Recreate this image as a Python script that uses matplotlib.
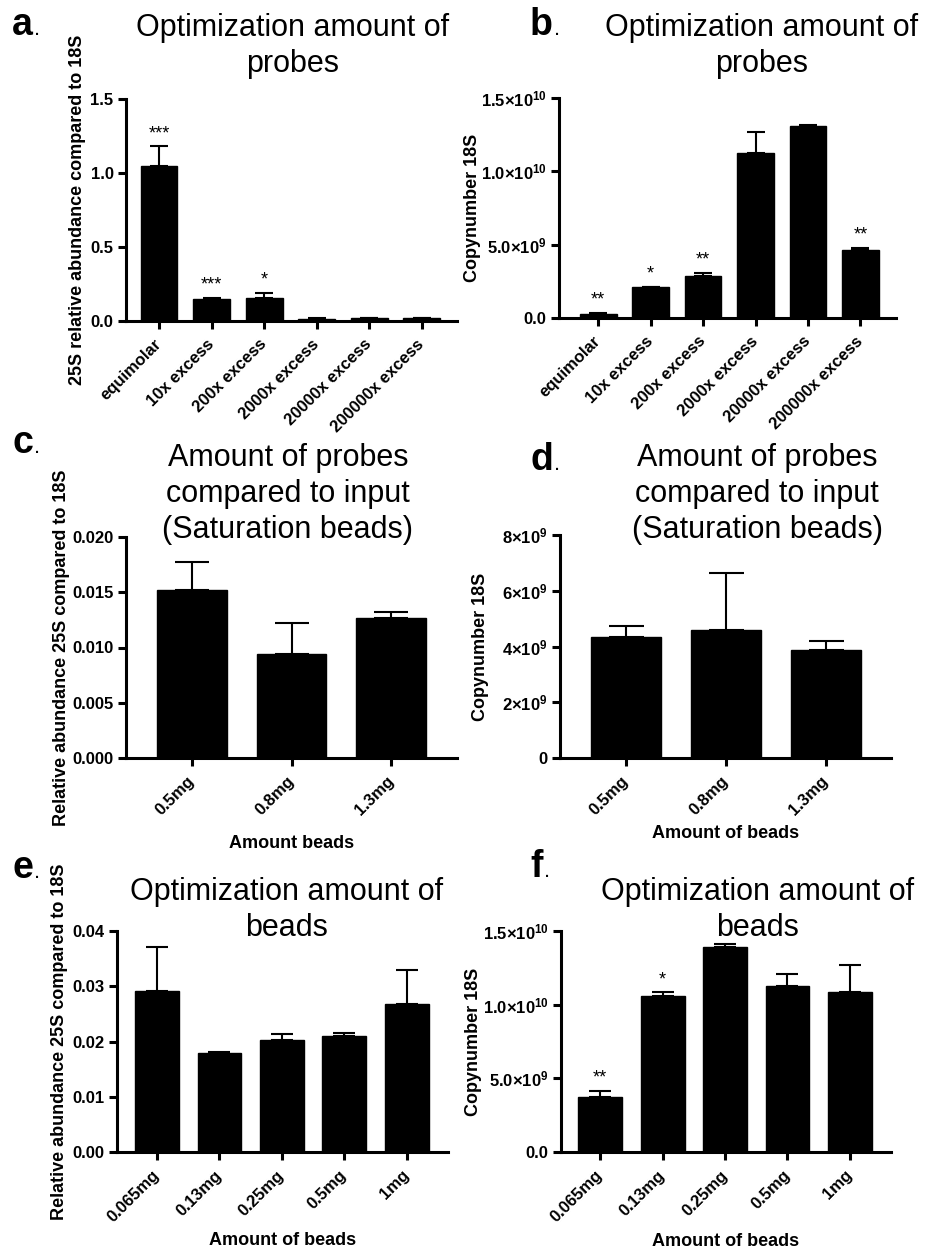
import numpy as np
import matplotlib
matplotlib.use("Agg")
import matplotlib.pyplot as plt

plt.rcParams["font.family"] = ["Liberation Sans", "DejaVu Sans"]
plt.rcParams["mathtext.fontset"] = "custom"
plt.rcParams["mathtext.rm"] = "Liberation Sans"
plt.rcParams["mathtext.bf"] = "Liberation Sans:bold"

W, H = 926, 1248

# panel a / b: amount of probes
probe_labels = ["equimolar", "10x excess", "200x excess", "2000x excess",
                "20000x excess", "200000x excess"]
a_mean = [1.05, 0.150, 0.155, 0.015, 0.018, 0.018]
a_err = [0.13, 0.005, 0.035, 0.002, 0.002, 0.002]
a_stars = ["***", "***", "*", "", "", ""]
a_ticks = [0.0, 0.5, 1.0, 1.5]
a_ticklabels = ["0.0", "0.5", "1.0", "1.5"]

b_mean = [0.027e10, 0.211e10, 0.284e10, 1.127e10, 1.311e10, 0.461e10]
b_err = [0.009e10, 0.003e10, 0.023e10, 0.141e10, 0.005e10, 0.016e10]
b_stars = ["**", "*", "**", "", "", "**"]
b_ticks = [0, 0.5e10, 1.0e10, 1.5e10]
b_ticklabels = ["0.0", r"$\mathbf{5.0{\times}10^{9}}$",
                r"$\mathbf{1.0{\times}10^{10}}$", r"$\mathbf{1.5{\times}10^{10}}$"]

# panel c / d: saturation beads
sat_labels = ["0.5mg", "0.8mg", "1.3mg"]
c_mean = [0.0152, 0.0094, 0.0127]
c_err = [0.0025, 0.0028, 0.0005]
c_ticks = [0.0, 0.005, 0.010, 0.015, 0.020]
c_ticklabels = ["0.000", "0.005", "0.010", "0.015", "0.020"]

d_mean = [4.35e9, 4.59e9, 3.87e9]
d_err = [0.39e9, 2.06e9, 0.32e9]
d_ticks = [0, 2e9, 4e9, 6e9, 8e9]
d_ticklabels = ["0", r"$\mathbf{2{\times}10^{9}}$", r"$\mathbf{4{\times}10^{9}}$",
                r"$\mathbf{6{\times}10^{9}}$", r"$\mathbf{8{\times}10^{9}}$"]

# panel e / f: amount of beads
bead_labels = ["0.065mg", "0.13mg", "0.25mg", "0.5mg", "1mg"]
e_mean = [0.0292, 0.0180, 0.0203, 0.0210, 0.0268]
e_err = [0.0079, 0.0001, 0.0010, 0.0006, 0.0062]
e_ticks = [0.0, 0.01, 0.02, 0.03, 0.04]
e_ticklabels = ["0.00", "0.01", "0.02", "0.03", "0.04"]

f_mean = [0.373e10, 1.059e10, 1.391e10, 1.124e10, 1.086e10]
f_err = [0.041e10, 0.025e10, 0.023e10, 0.086e10, 0.181e10]
f_stars = ["**", "*", "", "", ""]
f_ticks = b_ticks
f_ticklabels = b_ticklabels


def px_axes(fig, left, top, right, bottom):
    return fig.add_axes([left / W, 1 - bottom / H, (right - left) / W, (bottom - top) / H])


def draw_panel(ax, labels, means, errs, ticks, ticklabels, xlim, stars=None,
               ylabel="", xlabel="", ylabel_x=-0.15, xlabel_y=-0.35):
    n = len(labels)
    x = np.arange(n)
    width = 0.7
    ax_px = ax.get_position().width * W
    bar_px = width * ax_px / (xlim[1] - xlim[0])
    cap = bar_px / 4 * 0.72

    ax.errorbar(x, means, yerr=[np.zeros(n), errs], fmt="none", ecolor="black",
                elinewidth=1.5, capsize=cap, capthick=1.5, zorder=2, clip_on=False)
    ax.bar(x, means, width=width, color="black", edgecolor="black", linewidth=1, zorder=3)

    if stars:
        for xi, m, e, s in zip(x, means, errs, stars):
            if s:
                ax.annotate(s, (xi, m + e), xytext=(0, 3), textcoords="offset points",
                            ha="center", va="bottom", fontsize=13)

    ax.set_xlim(*xlim)
    ax.set_ylim(ticks[0], ticks[-1])
    ax.set_yticks(ticks)
    ax.set_yticklabels(ticklabels)
    ax.set_xticks(x)
    ax.set_xticklabels(labels, rotation=45, ha="right", va="center", rotation_mode="anchor")

    for sp in ["top", "right"]:
        ax.spines[sp].set_visible(False)
    for sp in ["left", "bottom"]:
        ax.spines[sp].set_linewidth(2.2)
    ax.tick_params(axis="both", direction="out", length=6, width=2.2, labelsize=12, pad=3)
    ax.tick_params(axis="x", pad=9)
    for lab in ax.get_xticklabels() + ax.get_yticklabels():
        lab.set_fontweight("bold")

    ax.set_ylabel(ylabel, fontsize=13, fontweight="bold")
    ax.yaxis.set_label_coords(ylabel_x, 0.5)
    if xlabel:
        ax.set_xlabel(xlabel, fontsize=13, fontweight="bold")
        ax.xaxis.set_label_coords(0.5, xlabel_y)


fig = plt.figure(figsize=(W / 100, H / 100), dpi=100)

ax_a = px_axes(fig, 126, 99, 457, 321)
draw_panel(ax_a, probe_labels, a_mean, a_err, a_ticks, a_ticklabels, (-0.63, 5.67),
           stars=a_stars, ylabel="25S relative abundance compared to 18S", ylabel_x=-0.12)

ax_b = px_axes(fig, 559, 98, 896, 318)
draw_panel(ax_b, probe_labels, b_mean, b_err, b_ticks, b_ticklabels, (-0.75, 5.68),
           stars=b_stars, ylabel="Copynumber 18S", ylabel_x=-0.232)

ax_c = px_axes(fig, 126, 537, 457, 758)
draw_panel(ax_c, sat_labels, c_mean, c_err, c_ticks, c_ticklabels, (-0.66, 2.66),
           ylabel="Relative abundance 25S compared to 18S", xlabel="Amount beads",
           ylabel_x=-0.169, xlabel_y=-0.348)

ax_d = px_axes(fig, 560, 535, 891, 758)
draw_panel(ax_d, sat_labels, d_mean, d_err, d_ticks, d_ticklabels, (-0.66, 2.65),
           ylabel="Copynumber 18S", xlabel="Amount of beads",
           ylabel_x=-0.215, xlabel_y=-0.30)

ax_e = px_axes(fig, 117, 931, 448, 1152)
draw_panel(ax_e, bead_labels, e_mean, e_err, e_ticks, e_ticklabels, (-0.64, 4.66),
           ylabel="Relative abundance 25S compared to 18S", xlabel="Amount of beads",
           ylabel_x=-0.148, xlabel_y=-0.362)

ax_f = px_axes(fig, 561, 931, 891, 1152)
draw_panel(ax_f, bead_labels, f_mean, f_err, f_ticks, f_ticklabels, (-0.63, 4.66),
           stars=f_stars, ylabel="Copynumber 18S", xlabel="Amount of beads",
           ylabel_x=-0.238, xlabel_y=-0.365)

# titles
titles = [
    (293, 46, "Optimization amount of\nprobes"),
    (762, 46, "Optimization amount of\nprobes"),
    (288, 494, "Amount of probes\ncompared to input\n(Saturation beads)"),
    (757, 494, "Amount of probes\ncompared to input\n(Saturation beads)"),
    (287, 910, "Optimization amount of\nbeads"),
    (758, 910, "Optimization amount of\nbeads"),
]
for tx, ty, t in titles:
    fig.text(tx / W, 1 - ty / H, t, ha="center", va="center", fontsize=22,
             linespacing=1.28)

# panel letters
letters = [("a", 12, 35), ("b", 530, 35), ("c", 12, 453),
           ("d", 530, 470), ("e", 12, 878), ("f", 530, 877)]
fig.canvas.draw()
renderer = fig.canvas.get_renderer()
for ch, lx, ly in letters:
    t = fig.text(lx / W, 1 - ly / H, ch, fontsize=27, fontweight="bold",
                 ha="left", va="baseline")
    bb = t.get_window_extent(renderer)
    fig.text((bb.x1 + 1) / W, 1 - ly / H, ".", fontsize=16, ha="left", va="baseline")

fig.savefig("out.png", dpi=100)
